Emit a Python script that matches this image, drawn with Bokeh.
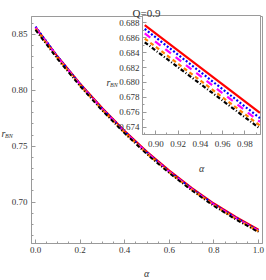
from bokeh.plotting import figure
from bokeh.models import Range1d, SingleIntervalTicker, NumeralTickFormatter
from bokeh.core.properties import value
from bokeh.embed import file_html
from bokeh.resources import INLINE

# ---------------- data ----------------
alpha = [0.0, 0.1, 0.2, 0.3, 0.4, 0.5, 0.6, 0.7, 0.8, 0.9, 1.0]
r_red = [0.8565, 0.8300, 0.8060, 0.7840, 0.7637, 0.7450, 0.7282, 0.7128, 0.6988, 0.6865, 0.6755]
r_blue = [0.8570, 0.8299, 0.8056, 0.7835, 0.7632, 0.7444, 0.7276, 0.7122, 0.6982, 0.6859, 0.6748]
r_magenta = [0.8560, 0.8292, 0.8050, 0.7829, 0.7626, 0.7439, 0.7271, 0.7117, 0.6977, 0.6854, 0.6743]
r_orange = [0.8550, 0.8284, 0.8043, 0.7823, 0.7620, 0.7433, 0.7265, 0.7111, 0.6971, 0.6848, 0.6738]
r_black = [0.8540, 0.8277, 0.8037, 0.7817, 0.7615, 0.7428, 0.7260, 0.7106, 0.6966, 0.6843, 0.6733]

alpha_in = [0.89, 0.9935]
r_red_in = [0.6877, 0.6759]
r_blue_in = [0.6872, 0.6752]
r_magenta_in = [0.6866, 0.6747]
r_orange_in = [0.6859, 0.6742]
r_black_in = [0.6854, 0.6738]

title_text = "Q=0.9"
y_label_main = "r"
y_label_sub = "BN"
x_label = "α"

# ---------------- style ----------------
FONT = "Liberation Sans Narrow"
FRAME = "#9a9a9a"
TXT = "#333333"

series = [
    (r_red, r_red_in, "#FF0000", None),
    (r_blue, r_blue_in, "#0000FF", "2 2"),
    (r_magenta, r_magenta_in, "#FF00FF", "7 6"),
    (r_orange, r_orange_in, "#FF8000", "4 3"),
    (r_black, r_black_in, "#000000", "4 2 1 2"),
]


def style_axis(ax, ticker, fmt, size, standoff):
    ax.ticker = ticker
    ax.formatter = NumeralTickFormatter(format=fmt)
    ax.axis_line_color = FRAME
    ax.major_tick_line_color = FRAME
    ax.minor_tick_line_color = FRAME
    ax.major_tick_in = 4
    ax.major_tick_out = 0
    ax.minor_tick_in = 2
    ax.minor_tick_out = 0
    ax.major_label_text_font = FONT
    ax.major_label_text_color = TXT
    ax.major_label_text_font_size = size
    ax.major_label_standoff = standoff


# ---------------- main plot (page 0..266 x 0..280; frame 31..262 x 16..243) ----------------
main = figure(width=266, height=280, x_range=Range1d(-0.018, 1.018), y_range=Range1d(0.663, 0.866),
              output_backend="svg", toolbar_location=None,
              min_border_left=31, min_border_right=4, min_border_top=16, min_border_bottom=37)
main.xgrid.visible = False
main.ygrid.visible = False
main.outline_line_color = FRAME
style_axis(main.xaxis[0], SingleIntervalTicker(interval=0.2, num_minor_ticks=4), "0.0", "9px", 3)
style_axis(main.yaxis[0], SingleIntervalTicker(interval=0.05, num_minor_ticks=5), "0.00", "9px", 4)

for vals, _, col, dash in series:
    if dash is None:
        main.line(alpha, vals, line_color=col, line_width=2)
    else:
        main.line(alpha, vals, line_color=col, line_width=2, line_dash=dash)

# ---------------- inset (absolute; frame 142..260 x 15..134) ----------------
inset = figure(width=164, height=164, x_range=Range1d(0.888, 0.994), y_range=Range1d(0.673, 0.689),
               output_backend="svg", toolbar_location=None,
               min_border_left=42, min_border_right=4, min_border_top=5, min_border_bottom=40,
               border_fill_color=None, background_fill_color="white")
inset.styles = {"position": "absolute", "left": "100px", "top": "10px"}
inset.xgrid.visible = False
inset.ygrid.visible = False
inset.outline_line_color = FRAME
style_axis(inset.xaxis[0], SingleIntervalTicker(interval=0.02, num_minor_ticks=2), "0.00", "9px", 6)
style_axis(inset.yaxis[0], SingleIntervalTicker(interval=0.002, num_minor_ticks=2), "0.000", "9px", 3)

for _, vals, col, dash in series:
    if dash is None:
        inset.line(alpha_in, vals, line_color=col, line_width=2.2)
    else:
        inset.line(alpha_in, vals, line_color=col, line_width=2.2, line_dash=dash)

# ---------------- text overlay (page pixel coordinates) ----------------
over = figure(width=266, height=280, x_range=Range1d(0, 266), y_range=Range1d(280, 0),
              output_backend="svg", toolbar_location=None, min_border=0,
              x_axis_location=None, y_axis_location=None,
              outline_line_color=None, background_fill_color=None, border_fill_color=None)
over.styles = {"position": "absolute", "left": "0px", "top": "0px"}
over.grid.visible = False

over.text(x=[146], y=[12], text=[title_text], text_align="center", text_baseline="alphabetic",
          text_font=value(FONT), text_font_size="11px", text_color=TXT)
over.text(x=[146, 201], y=[273, 168], text=[x_label, x_label], text_align="center",
          text_baseline="alphabetic", text_font=value(FONT), text_font_style="italic",
          text_font_size="10px", text_color=TXT)
over.text(x=[1, 106], y=[133, 82], text=[y_label_main, y_label_main], text_align="left",
          text_baseline="alphabetic", text_font=value(FONT), text_font_style="italic",
          text_font_size="10px", text_color=TXT)
over.text(x=[4.5, 109.5], y=[135, 84], text=[y_label_sub, y_label_sub], text_align="left",
          text_baseline="alphabetic", text_font=value(FONT), text_font_style="italic",
          text_font_size="6px", text_color=TXT)

open("out.html", "w").write(file_html([main, inset, over], INLINE))
